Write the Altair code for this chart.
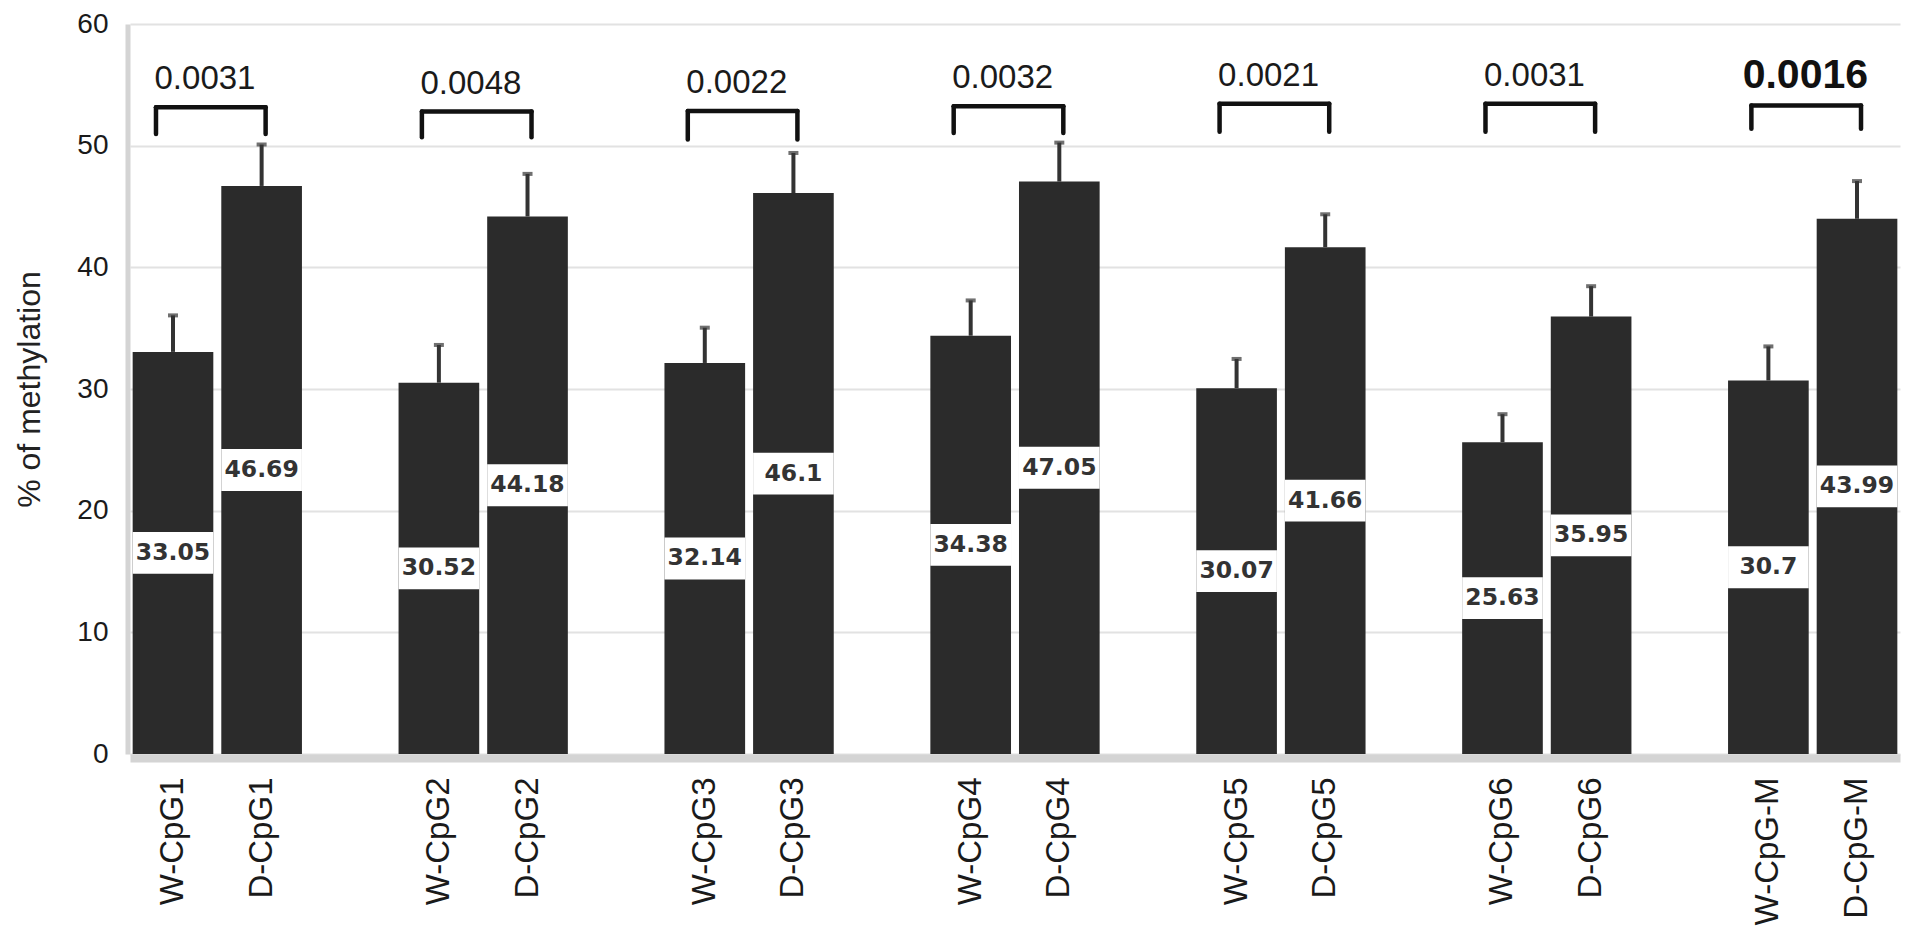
import altair as alt
import pandas as pd

# ---- data ----
w_labels = ["W-CpG1", "W-CpG2", "W-CpG3", "W-CpG4", "W-CpG5", "W-CpG6", "W-CpG-M"]
d_labels = ["D-CpG1", "D-CpG2", "D-CpG3", "D-CpG4", "D-CpG5", "D-CpG6", "D-CpG-M"]
w_values = [33.05, 30.52, 32.14, 34.38, 30.07, 25.63, 30.7]
d_values = [46.69, 44.18, 46.1, 47.05, 41.66, 35.95, 43.99]
w_err = [3.0, 3.1, 2.9, 2.9, 2.4, 2.3, 2.8]
d_err = [3.4, 3.5, 3.3, 3.2, 2.7, 2.5, 3.1]
p_values = ["0.0031", "0.0048", "0.0022", "0.0032", "0.0021", "0.0031", "0.0016"]
p_bold = [False, False, False, False, False, False, True]
bracket_top = [53.15, 52.8, 52.85, 53.25, 53.45, 53.45, 53.3]
bracket_end = [50.95, 50.7, 50.5, 51.05, 51.15, 51.15, 51.4]
y_ticks = [0, 10, 20, 30, 40, 50, 60]

# category order with blank spacer slots between the pairs
cats = []
for i in range(len(w_labels)):
    cats += [w_labels[i], d_labels[i]]
    if i < len(w_labels) - 1:
        cats.append(" " * (i + 1))

bars = pd.DataFrame({
    "label": w_labels + d_labels,
    "value": w_values + d_values,
    "err": w_err + d_err,
})
bars["top"] = bars["value"] + bars["err"]
bars["mid"] = bars["value"] / 2
bars["lo"] = bars["mid"] - 1.72
bars["hi"] = bars["mid"] + 1.72
bars["txt"] = [str(v) for v in bars["value"]]

brackets = pd.DataFrame({
    "w": w_labels,
    "d": d_labels,
    "top": bracket_top,
    "end": bracket_end,
    "p": p_values,
    "bold": p_bold,
})

FONT = "Liberation Sans"

xscale = alt.Scale(domain=cats, paddingInner=0.09, paddingOuter=0.03)
xaxis = alt.Axis(
    title=None, labelAngle=-90, labelFont=FONT, labelFontSize=33,
    labelColor="#1a1a1a", labelPadding=19, ticks=False,
    domainColor="#d4d4d4", domainWidth=8, offset=4, grid=False, labelLimit=0,
)
yscale = alt.Scale(domain=[0, 60], nice=False)
yaxis = alt.Axis(
    title="% of methylation", values=y_ticks, labelFont=FONT, labelFontSize=28,
    labelColor="#1a1a1a", labelPadding=19.5, ticks=False,
    domainColor="#d4d4d4", domainWidth=5, offset=2.5,
    grid=True, gridColor="#e2e2e2", gridWidth=2,
    titleFont=FONT, titleFontSize=32, titleFontWeight="normal",
    titleColor="#222222", titlePadding=30,
)


def X(field):
    return alt.X(f"{field}:N", scale=xscale, axis=xaxis)


def Y(field):
    return alt.Y(f"{field}:Q", scale=yscale, axis=yaxis)


base = alt.Chart(bars)

bar_layer = base.mark_bar(color="#2b2b2b").encode(x=X("label"), y=Y("value"))
err_layer = base.mark_rule(color="#333333", strokeWidth=4).encode(
    x=X("label"), y=Y("value"), y2="top"
)
cap_layer = base.mark_tick(color="#333333", thickness=4, size=10).encode(
    x=X("label"), y=Y("top")
)
box_layer = base.mark_bar(color="white").encode(x=X("label"), y=Y("lo"), y2="hi")
val_layer = base.mark_text(
    font="DejaVu Sans", fontWeight="bold", fontSize=23.5, color="#333333",
    baseline="middle", align="center",
).encode(x=X("label"), y=Y("mid"), text="txt:N")

bb = alt.Chart(brackets)
BR = dict(color="#111111", strokeWidth=4.5, strokeCap="round")
leg_left = bb.mark_rule(xOffset=-17, **BR).encode(x=X("w"), y=Y("end"), y2="top")
leg_right = bb.mark_rule(xOffset=4, **BR).encode(x=X("d"), y=Y("end"), y2="top")
bar_top = bb.mark_rule(xOffset=-17, x2Offset=4, **BR).encode(
    x=X("w"), x2=alt.X2("d"), y=Y("top")
)
p_reg = bb.transform_filter("!datum.bold").mark_text(
    font=FONT, fontSize=33, color="#1a1a1a", baseline="alphabetic",
    align="center", dx=32, dy=-18,
).encode(x=X("w"), y=Y("top"), text="p:N")
p_b = bb.transform_filter("datum.bold").mark_text(
    font=FONT, fontSize=41, fontWeight="bold", color="#111111",
    baseline="alphabetic", align="center", dx=37, dy=-18,
).encode(x=X("w"), y=Y("top"), text="p:N")

chart = alt.layer(
    bar_layer, err_layer, cap_layer, box_layer, val_layer,
    leg_left, leg_right, bar_top, p_reg, p_b,
).properties(
    width=1770, height=730,
    autosize=alt.AutoSizeParams(type="none"),
    padding={"left": 122, "top": 16, "right": 4, "bottom": 177},
    background="white",
).configure_view(stroke=None)

chart.save("out.html", embed_options={"renderer": "svg", "actions": False})
